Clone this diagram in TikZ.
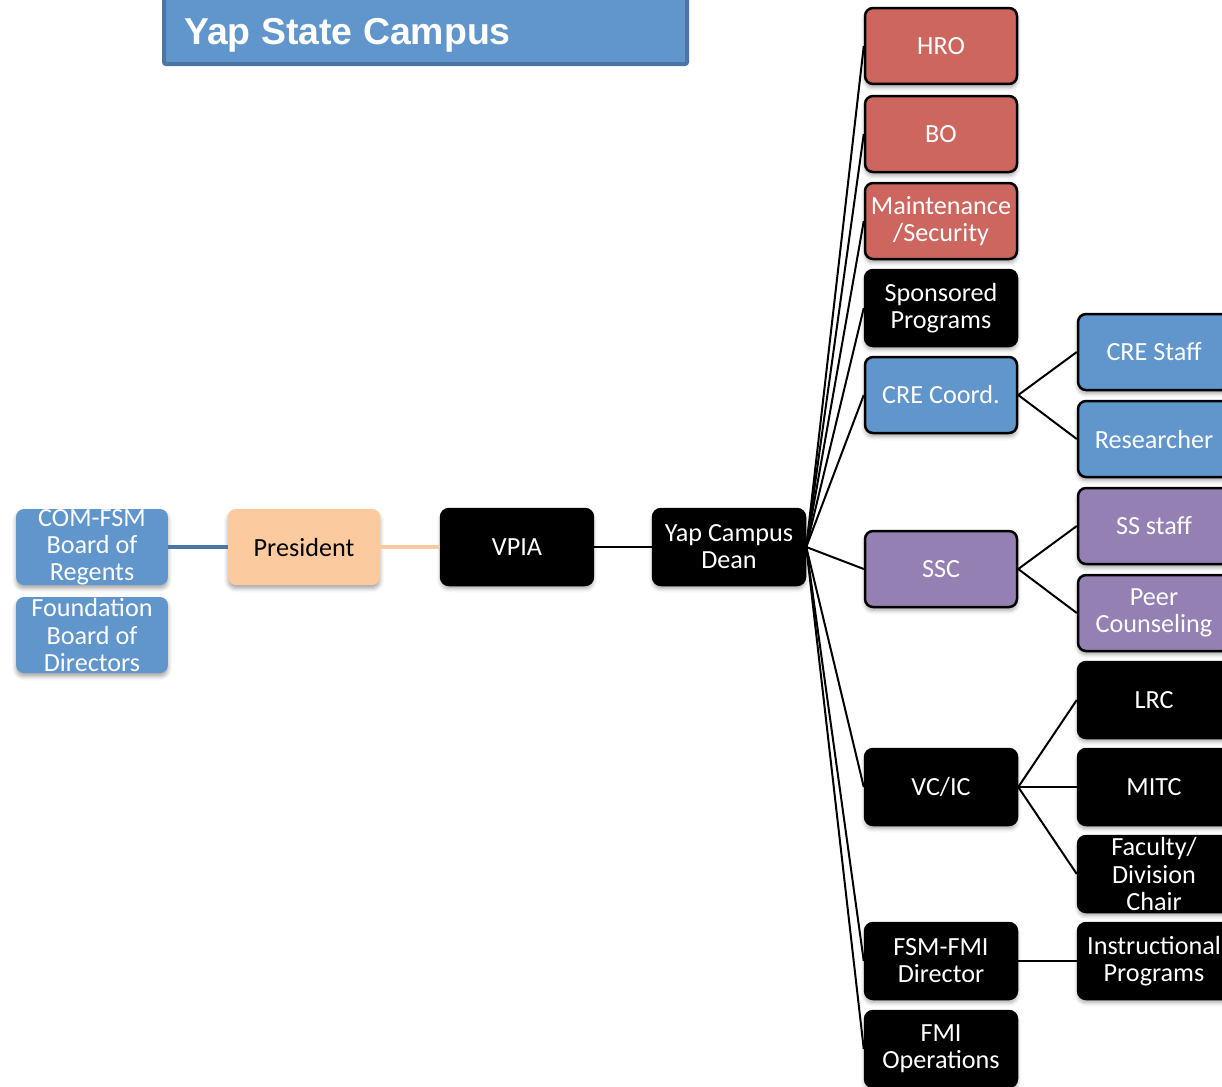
\documentclass[tikz,border=0pt]{standalone}
\usepackage{fontspec}
\setmainfont{Carlito}
\newfontfamily\titlefont{Liberation Sans}
\usetikzlibrary{shadows.blur}

\definecolor{boxblue}{RGB}{97,150,204}
\definecolor{boxred}{RGB}{205,102,95}
\definecolor{boxpurple}{RGB}{149,128,180}
\definecolor{boxpeach}{RGB}{251,202,159}
\definecolor{edgeblue}{RGB}{74,117,165}

\begin{document}
\begin{tikzpicture}[
    x=0.02cm, y=-0.02cm,
    every node/.append style = {font=\fontsize{14.9}{15.4}\selectfont},
    unit/.style = {rectangle, rounded corners=0.16cm, minimum width=3.04cm,
      minimum height=1.52cm, inner sep=0pt, align=center,
      blur shadow={shadow xshift=0pt, shadow yshift=-0.07cm,
        shadow blur radius=0.08cm, shadow opacity=35}},
    blueunit/.style = {unit, fill=boxblue, text=white},
    peachunit/.style = {unit, fill=boxpeach, text=black},
    blackunit/.style = {unit, fill=black, text=white, draw=black, line width=0.05cm},
    redunit/.style = {unit, fill=boxred, text=white, draw=black, line width=0.05cm},
    creunit/.style = {unit, fill=boxblue, text=white, draw=black, line width=0.05cm},
    ssunit/.style = {unit, fill=boxpurple, text=white, draw=black, line width=0.05cm},
    link/.style = {line width=0.04cm}
  ]
  \useasboundingbox (0,0) rectangle (1222,1086);
  \clip (0,0) rectangle (1222,1086);

  % title
  \draw[fill=boxblue, draw=edgeblue, line width=0.08cm, rounded corners=0.04cm]
    (164,-60) rectangle (687,64);
  \node[anchor=base west, text=white, font=\titlefont\bfseries\fontsize{21.3}{22}\selectfont]
    (title) at (178,44) {Yap State Campus};

  % left side
  \node[blueunit] (bor) at (92,547) {COM-FSM\\Board of\\Regents};
  \node[blueunit] (fbd) at (92,635) {Foundation\\Board of\\Directors};
  \node[peachunit] (pres) at (304,547) {President};
  \node[blackunit] (vpia) at (517,547) {VPIA};
  \node[blackunit] (dean) at (729,547) {Yap Campus\\Dean};

  % units under the dean
  \node[redunit] (hro) at (941,46) {HRO};
  \node[redunit] (bo) at (941,134) {BO};
  \node[redunit] (maint) at (941,221) {Maintenance\\/Security};
  \node[blackunit] (spons) at (941,308) {Sponsored\\Programs};
  \node[creunit] (cre) at (941,395) {CRE Coord.};
  \node[ssunit] (ssc) at (941,569) {SSC};
  \node[blackunit] (vcic) at (941,787) {VC/IC};
  \node[blackunit] (fmidir) at (941,961) {FSM-FMI\\Director};
  \node[blackunit] (fmiops) at (941,1049) {FMI\\Operations};

  % third level
  \node[creunit] (crestaff) at (1154,352) {CRE Staff};
  \node[creunit] (research) at (1154,439) {Researcher};
  \node[ssunit] (ssstaff) at (1154,526) {SS staff};
  \node[ssunit] (peer) at (1154,613) {Peer\\Counseling};
  \node[blackunit] (lrc) at (1154,700) {LRC};
  \node[blackunit] (mitc) at (1154,787) {MITC};
  \node[blackunit] (faculty) at (1154,874) {Faculty/\\Division\\Chair};
  \node[blackunit] (instr) at (1154,961) {Instructional\\Programs};

  % connectors
  \draw[edgeblue, line width=0.09cm] (bor) -- (pres);
  \draw[boxpeach, line width=0.09cm] (pres) -- (vpia);
  \draw[link] (vpia) -- (dean);
  \foreach \u in {hro, bo, maint, spons, cre, ssc, vcic, fmidir, fmiops}
    \draw[link] (dean.east) -- (\u.west);
  \foreach \u in {crestaff, research}
    \draw[link] (cre.east) -- (\u.west);
  \foreach \u in {ssstaff, peer}
    \draw[link] (ssc.east) -- (\u.west);
  \foreach \u in {lrc, mitc, faculty}
    \draw[link] (vcic.east) -- (\u.west);
  \draw[link] (fmidir) -- (instr);
\end{tikzpicture}
\end{document}
